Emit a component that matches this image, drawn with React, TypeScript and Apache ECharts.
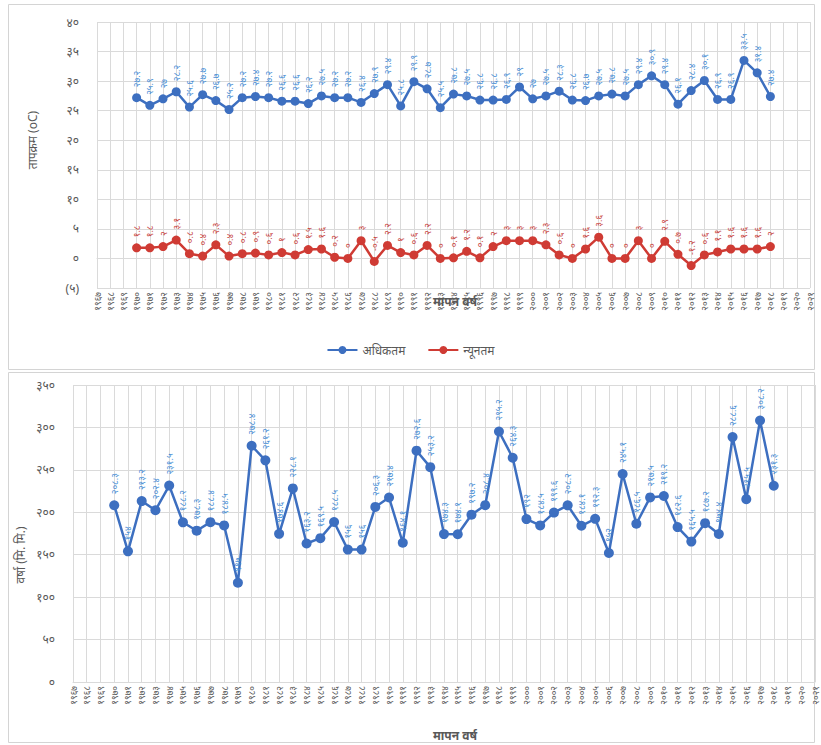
import React, { useEffect, useRef } from "react";
import * as echarts from "echarts";

const years: number[] = [];
for (let y = 1967; y <= 2021; y++) years.push(y);

// 1970 .. 2018
const maxTemp = [
  27.2, 25.9, 27.0, 28.2, 25.6, 27.7, 26.7, 25.2, 27.2, 27.4,
  27.2, 26.6, 26.6, 26.2, 27.5, 27.2, 27.2, 26.4, 27.9, 29.4,
  25.8, 29.9, 28.7, 25.5, 27.8, 27.5, 26.8, 26.8, 26.9, 29.0,
  27.0, 27.5, 28.3, 26.8, 26.7, 27.5, 27.8, 27.5, 29.4, 30.9,
  29.4, 26.1, 28.4, 30.1, 26.9, 26.9, 33.5, 31.4, 27.4,
];
const minTemp = [
  1.8, 1.8, 2.0, 3.1, 0.8, 0.4, 2.3, 0.4, 0.8, 0.9,
  0.6, 1, 0.6, 1.5, 1.6, 0.2, 0, 3, -0.5, 2.2,
  1.0, 0.6, 2.2, 0, 0.1, 1.2, 0.1, 2.0, 3, 3,
  3, 2.3, 0.6, 0, 1.6, 3.6, 0, 0, 3, 0,
  2.9, 0.7, -1.2, 0.6, 1.1, 1.6, 1.6, 1.6, 2.0,
];
const rain = [
  208.3, 154, 213.2, 202.4, 231.5, 188.2, 178.3, 188.4, 184.5, 117,
  278.4, 261.2, 174.6, 228.1, 163.2, 169.5, 188.5, 156, 156, 206.3,
  217.4, 164.1, 272.6, 253.2, 174.3, 174.1, 197.2, 208.4, 295.2, 264.3,
  192, 184.5, 199.6, 208.2, 184.1, 192.3, 152, 245.1, 186.5, 217.5,
  219.2, 182.6, 165.5, 187.2, 174.4, 288.6, 215.5, 308.2, 231.3,
];
const firstDataYear = 1970;

const tempYTicks = { min: -5, max: 40, interval: 5 };
const rainYTicks = { min: 0, max: 350, interval: 50 };

const NEP = ["०", "१", "२", "३", "४", "५", "६", "७", "८", "९"];
const toNep = (s: string) => s.replace(/[0-9]/g, (d) => NEP[+d]);

const FONT = "'Noto Sans', 'Noto Sans Devanagari', 'Lohit Devanagari', sans-serif";

function pad(arr: number[]): (number | null)[] {
  const out: (number | null)[] = [];
  for (const y of years) {
    const i = y - firstDataYear;
    out.push(i >= 0 && i < arr.length ? arr[i] : null);
  }
  return out;
}

const fmtNum = (v: number) => {
  const s = Number.isInteger(v) ? String(v) : v.toFixed(1);
  return toNep(s);
};

export default function App() {
  const ref = useRef<HTMLDivElement>(null);
  useEffect(() => {
    if (!ref.current) return;
    const chart = echarts.init(ref.current, undefined, { renderer: "svg" });
    const blue = "#3d6fc0";
    const red = "#cf3b34";
    const grid = "#dadada";
    const axisText = "#595959";
    const xLabels = years.map((y) => toNep(String(y)));

    const xAxisCommon = {
      type: "category" as const,
      data: xLabels,
      boundaryGap: false,
      axisLine: { lineStyle: { color: grid } },
      axisTick: { show: false },
      splitLine: { show: true, interval: 0, lineStyle: { color: grid, width: 1 } },
      axisLabel: {
        rotate: 90,
        interval: 0,
        fontSize: 9,
        color: axisText,
        fontFamily: FONT,
        margin: 4,
      },
    };

    const labelCommon = {
      show: true,
      position: "top" as const,
      rotate: 90,
      align: "left" as const,
      verticalAlign: "middle" as const,
      distance: 6,
      fontSize: 9,
      fontFamily: FONT,
      formatter: (p: any) => (p.value == null ? "" : fmtNum(p.value as number)),
    };

    chart.setOption({
      animation: false,
      backgroundColor: "#ffffff",
      textStyle: { fontFamily: FONT },
      grid: [
        { left: 97, right: 11, top: 22, bottom: 457 },
        { left: 73, right: 6, top: 385, bottom: 63 },
      ],
      legend: {
        top: 339,
        left: "center",
        itemWidth: 30,
        itemHeight: 10,
        itemGap: 22,
        data: ["अधिकतम", "न्यूनतम"],
        textStyle: { color: axisText, fontSize: 12, fontFamily: FONT },
      },
      xAxis: [
        { ...xAxisCommon, gridIndex: 0 },
        { ...xAxisCommon, gridIndex: 1 },
      ],
      yAxis: [
        {
          type: "value",
          gridIndex: 0,
          ...tempYTicks,
          axisLine: { show: false },
          axisTick: { show: false },
          splitLine: { lineStyle: { color: grid } },
          axisLabel: {
            color: axisText,
            fontSize: 12,
            margin: 18,
            fontFamily: FONT,
            formatter: (v: number) => (v < 0 ? "(" + toNep(String(-v)) + ")" : toNep(String(v))),
          },
        },
        {
          type: "value",
          gridIndex: 1,
          ...rainYTicks,
          axisLine: { show: false },
          axisTick: { show: false },
          splitLine: { lineStyle: { color: grid } },
          axisLabel: {
            color: axisText,
            fontSize: 12,
            margin: 18,
            fontFamily: FONT,
            formatter: (v: number) => toNep(String(v)),
          },
        },
      ],
      series: [
        {
          name: "अधिकतम",
          type: "line",
          xAxisIndex: 0,
          yAxisIndex: 0,
          data: pad(maxTemp),
          color: blue,
          symbol: "circle",
          symbolSize: 9,
          lineStyle: { width: 2.5, color: blue },
          itemStyle: { color: blue },
          label: { ...labelCommon, color: "#4a8fd6" },
        },
        {
          name: "न्यूनतम",
          type: "line",
          xAxisIndex: 0,
          yAxisIndex: 0,
          data: pad(minTemp),
          color: red,
          symbol: "circle",
          symbolSize: 9,
          lineStyle: { width: 2.5, color: red },
          itemStyle: { color: red },
          label: { ...labelCommon, color: "#c9463f" },
        },
        {
          name: "वर्षा",
          type: "line",
          xAxisIndex: 1,
          yAxisIndex: 1,
          data: pad(rain),
          color: blue,
          symbol: "circle",
          symbolSize: 10,
          lineStyle: { width: 2.5, color: blue },
          itemStyle: { color: blue },
          label: { ...labelCommon, color: "#4a8fd6" },
        },
      ],
      graphic: [
        {
          type: "rect",
          shape: { x: 8.5, y: 4.5, width: 806, height: 365 },
          style: { fill: "none", stroke: "#d4d4d4", lineWidth: 1 },
          silent: true,
          z: -1,
        },
        {
          type: "rect",
          shape: { x: 8.5, y: 372.5, width: 806, height: 370 },
          style: { fill: "none", stroke: "#d4d4d4", lineWidth: 1 },
          silent: true,
          z: -1,
        },
        {
          type: "text",
          x: 455,
          y: 301,
          style: {
            text: "मापन वर्ष",
            fill: "#595959",
            font: "bold 12px " + FONT,
            align: "center",
            verticalAlign: "middle",
          },
        },
        {
          type: "text",
          x: 455,
          y: 735,
          style: {
            text: "मापन वर्ष",
            fill: "#595959",
            font: "bold 12px " + FONT,
            align: "center",
            verticalAlign: "middle",
          },
        },
        {
          type: "text",
          x: 32,
          y: 140,
          rotation: Math.PI / 2,
          style: {
            text: "तापक्रम (oC)",
            fill: "#595959",
            font: "12px " + FONT,
            align: "center",
            verticalAlign: "middle",
          },
        },
        {
          type: "text",
          x: 20,
          y: 555,
          rotation: Math.PI / 2,
          style: {
            text: "वर्षा (मि. मि.)",
            fill: "#595959",
            font: "12px " + FONT,
            align: "center",
            verticalAlign: "middle",
          },
        },
      ],
    });
    return () => chart.dispose();
  }, []);
  return (
    <div
      ref={ref}
      style={{ position: "fixed", left: 0, top: 0, width: 821, height: 745, background: "#fff" }}
    />
  );
}
